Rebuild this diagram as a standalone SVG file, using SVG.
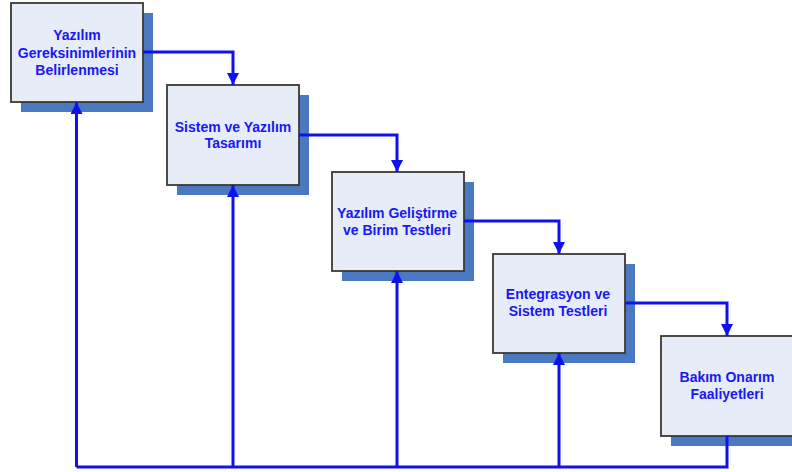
<svg xmlns="http://www.w3.org/2000/svg" width="792" height="472" viewBox="0 0 792 472">
  <defs>
    <marker id="arrow" viewBox="0 0 12 12" refX="12" refY="6" markerWidth="12" markerHeight="12" markerUnits="userSpaceOnUse" orient="auto">
      <path d="M0,0 L12,6 L0,12 Z" fill="#1010F0"/>
    </marker>
    <style>
      .shadow { fill: #4A79C2; }
      .box { fill: #E6ECF8; stroke: #3A3A30; stroke-width: 1.8; }
      .label { font-family: "Liberation Sans", Arial, sans-serif; font-size: 14px; font-weight: bold; fill: #1818F4; text-anchor: middle; }
      .link { fill: none; stroke: #1010F0; stroke-width: 3; }
    </style>
  </defs>
  <rect width="792" height="472" fill="#FFFFFF"/>

  <!-- phase boxes -->
  <g id="requirements">
    <rect class="shadow" x="21" y="13" width="132" height="99"/>
    <rect class="box" x="11" y="3" width="132" height="99"/>
    <text class="label" x="77" y="40">Yazılım</text>
    <text class="label" x="77" y="58">Gereksinimlerinin</text>
    <text class="label" x="77" y="75">Belirlenmesi</text>
  </g>
  <g id="design">
    <rect class="shadow" x="177" y="95" width="132" height="100"/>
    <rect class="box" x="167" y="85" width="132" height="100"/>
    <text class="label" x="233" y="132">Sistem ve Yazılım</text>
    <text class="label" x="233" y="148">Tasarımı</text>
  </g>
  <g id="development">
    <rect class="shadow" x="342" y="182" width="132" height="99"/>
    <rect class="box" x="332" y="172" width="132" height="99"/>
    <text class="label" x="397" y="218">Yazılım Geliştirme</text>
    <text class="label" x="397" y="235">ve Birim Testleri</text>
  </g>
  <g id="integration">
    <rect class="shadow" x="503" y="264" width="132" height="99"/>
    <rect class="box" x="493" y="254" width="132" height="99"/>
    <text class="label" x="558" y="299">Entegrasyon ve</text>
    <text class="label" x="558" y="316">Sistem Testleri</text>
  </g>
  <g id="maintenance">
    <rect class="shadow" x="671" y="346" width="132" height="100"/>
    <rect class="box" x="661" y="336" width="132" height="100"/>
    <text class="label" x="727" y="382">Bakım Onarım</text>
    <text class="label" x="727" y="399">Faaliyetleri</text>
  </g>

  <!-- connectors -->
  <g id="connectors">
    <path class="link" d="M143,52 H233 V85" marker-end="url(#arrow)"/>
    <path class="link" d="M299,135 H397 V172" marker-end="url(#arrow)"/>
    <path class="link" d="M464,221 H559 V254" marker-end="url(#arrow)"/>
    <path class="link" d="M625,303 H727 V336" marker-end="url(#arrow)"/>
    <!-- feedback loop along the bottom -->
    <path class="link" d="M727,436 V467 H76.5"/>
    <path class="link" d="M76.5,467 V102" marker-end="url(#arrow)"/>
    <path class="link" d="M233,467 V185" marker-end="url(#arrow)"/>
    <path class="link" d="M397,467 V271" marker-end="url(#arrow)"/>
    <path class="link" d="M559,467 V353" marker-end="url(#arrow)"/>
  </g>
</svg>
